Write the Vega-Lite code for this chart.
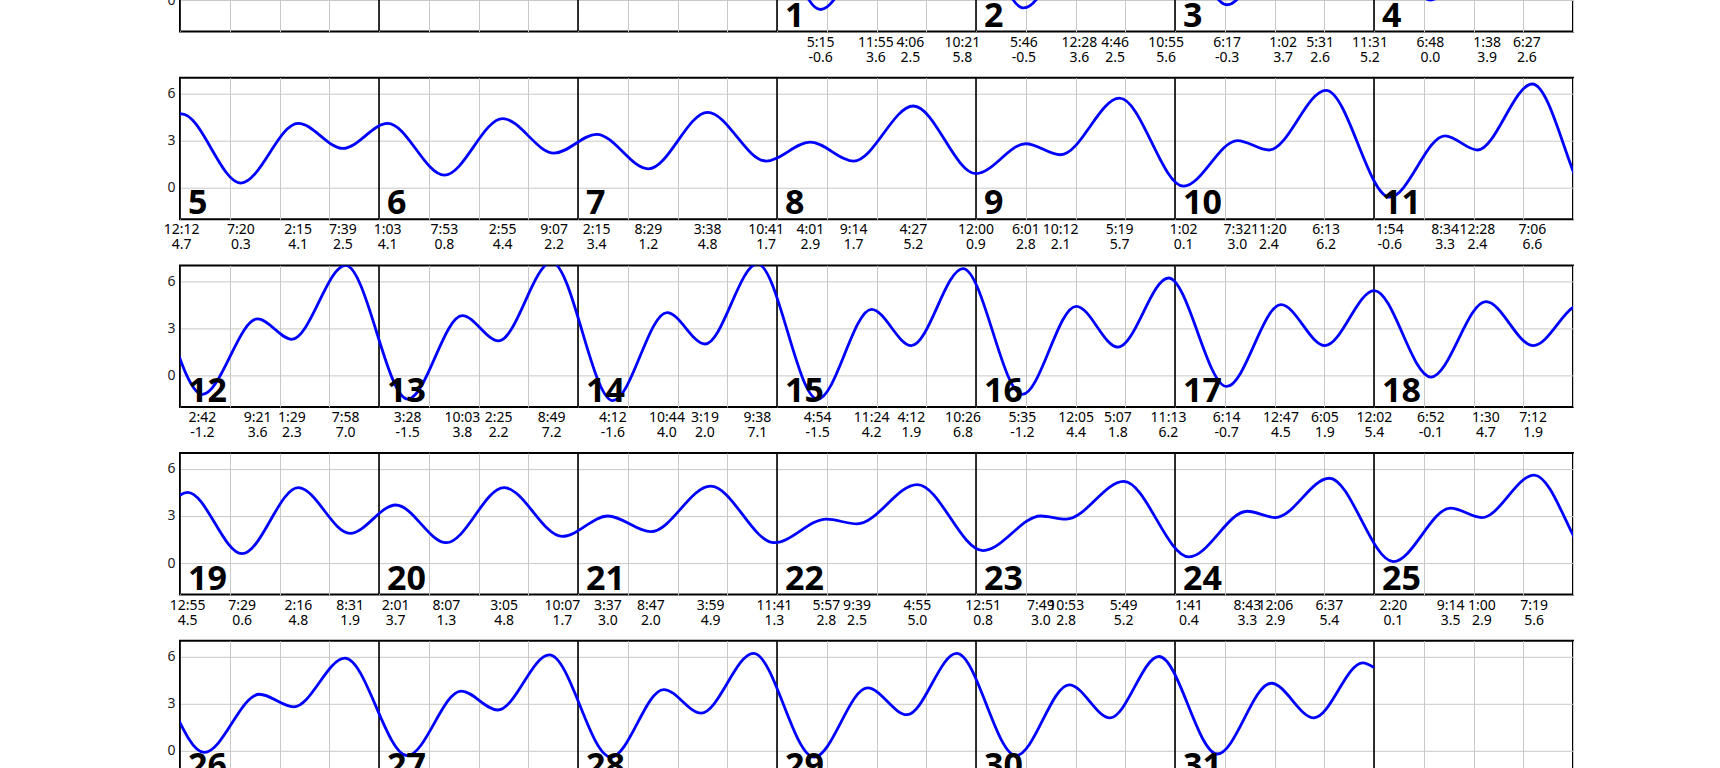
{
  "$schema": "https://vega.github.io/schema/vega-lite/v6.json",
  "background": "white",
  "padding": {"top": -111, "left": 162, "right": 0, "bottom": 0},
  "bounds": "flush",
  "spacing": 45.7,
  "datasets": {
    "tides": [
      {"t": "2024-05-01T00:00", "h": 5.6},
      {"t": "2024-05-01T05:15", "h": -0.6, "week": 0},
      {"t": "2024-05-01T11:55", "h": 3.6, "week": 0},
      {"t": "2024-05-01T16:06", "h": 2.5, "week": 0},
      {"t": "2024-05-01T22:21", "h": 5.8, "week": 0},
      {"t": "2024-05-02T05:46", "h": -0.5, "week": 0},
      {"t": "2024-05-02T12:28", "h": 3.6, "week": 0},
      {"t": "2024-05-02T16:46", "h": 2.5, "week": 0},
      {"t": "2024-05-02T22:55", "h": 5.6, "week": 0},
      {"t": "2024-05-03T06:17", "h": -0.3, "week": 0},
      {"t": "2024-05-03T13:02", "h": 3.7, "week": 0},
      {"t": "2024-05-03T17:31", "h": 2.6, "week": 0},
      {"t": "2024-05-03T23:31", "h": 5.2, "week": 0},
      {"t": "2024-05-04T06:48", "h": -0.0, "week": 0},
      {"t": "2024-05-04T13:38", "h": 3.9, "week": 0},
      {"t": "2024-05-04T18:27", "h": 2.6, "week": 0},
      {"t": "2024-05-05T00:12", "h": 4.7, "week": 1},
      {"t": "2024-05-05T07:20", "h": 0.3, "week": 1},
      {"t": "2024-05-05T14:15", "h": 4.1, "week": 1},
      {"t": "2024-05-05T19:39", "h": 2.5, "week": 1},
      {"t": "2024-05-06T01:03", "h": 4.1, "week": 1},
      {"t": "2024-05-06T07:53", "h": 0.8, "week": 1},
      {"t": "2024-05-06T14:55", "h": 4.4, "week": 1},
      {"t": "2024-05-06T21:07", "h": 2.2, "week": 1},
      {"t": "2024-05-07T02:15", "h": 3.4, "week": 1},
      {"t": "2024-05-07T08:29", "h": 1.2, "week": 1},
      {"t": "2024-05-07T15:38", "h": 4.8, "week": 1},
      {"t": "2024-05-07T22:41", "h": 1.7, "week": 1},
      {"t": "2024-05-08T04:01", "h": 2.9, "week": 1},
      {"t": "2024-05-08T09:14", "h": 1.7, "week": 1},
      {"t": "2024-05-08T16:27", "h": 5.2, "week": 1},
      {"t": "2024-05-09T00:00", "h": 0.9, "week": 1},
      {"t": "2024-05-09T06:01", "h": 2.8, "week": 1},
      {"t": "2024-05-09T10:12", "h": 2.1, "week": 1},
      {"t": "2024-05-09T17:19", "h": 5.7, "week": 1},
      {"t": "2024-05-10T01:02", "h": 0.1, "week": 1},
      {"t": "2024-05-10T07:32", "h": 3.0, "week": 1},
      {"t": "2024-05-10T11:20", "h": 2.4, "week": 1},
      {"t": "2024-05-10T18:13", "h": 6.2, "week": 1},
      {"t": "2024-05-11T01:54", "h": -0.6, "week": 1},
      {"t": "2024-05-11T08:34", "h": 3.3, "week": 1},
      {"t": "2024-05-11T12:28", "h": 2.4, "week": 1},
      {"t": "2024-05-11T19:06", "h": 6.6, "week": 1},
      {"t": "2024-05-12T02:42", "h": -1.2, "week": 2},
      {"t": "2024-05-12T09:21", "h": 3.6, "week": 2},
      {"t": "2024-05-12T13:29", "h": 2.3, "week": 2},
      {"t": "2024-05-12T19:58", "h": 7.0, "week": 2},
      {"t": "2024-05-13T03:28", "h": -1.5, "week": 2},
      {"t": "2024-05-13T10:03", "h": 3.8, "week": 2},
      {"t": "2024-05-13T14:25", "h": 2.2, "week": 2},
      {"t": "2024-05-13T20:49", "h": 7.2, "week": 2},
      {"t": "2024-05-14T04:12", "h": -1.6, "week": 2},
      {"t": "2024-05-14T10:44", "h": 4.0, "week": 2},
      {"t": "2024-05-14T15:19", "h": 2.0, "week": 2},
      {"t": "2024-05-14T21:38", "h": 7.1, "week": 2},
      {"t": "2024-05-15T04:54", "h": -1.5, "week": 2},
      {"t": "2024-05-15T11:24", "h": 4.2, "week": 2},
      {"t": "2024-05-15T16:12", "h": 1.9, "week": 2},
      {"t": "2024-05-15T22:26", "h": 6.8, "week": 2},
      {"t": "2024-05-16T05:35", "h": -1.2, "week": 2},
      {"t": "2024-05-16T12:05", "h": 4.4, "week": 2},
      {"t": "2024-05-16T17:07", "h": 1.8, "week": 2},
      {"t": "2024-05-16T23:13", "h": 6.2, "week": 2},
      {"t": "2024-05-17T06:14", "h": -0.7, "week": 2},
      {"t": "2024-05-17T12:47", "h": 4.5, "week": 2},
      {"t": "2024-05-17T18:05", "h": 1.9, "week": 2},
      {"t": "2024-05-18T00:02", "h": 5.4, "week": 2},
      {"t": "2024-05-18T06:52", "h": -0.1, "week": 2},
      {"t": "2024-05-18T13:30", "h": 4.7, "week": 2},
      {"t": "2024-05-18T19:12", "h": 1.9, "week": 2},
      {"t": "2024-05-19T00:55", "h": 4.5, "week": 3},
      {"t": "2024-05-19T07:29", "h": 0.6, "week": 3},
      {"t": "2024-05-19T14:16", "h": 4.8, "week": 3},
      {"t": "2024-05-19T20:31", "h": 1.9, "week": 3},
      {"t": "2024-05-20T02:01", "h": 3.7, "week": 3},
      {"t": "2024-05-20T08:07", "h": 1.3, "week": 3},
      {"t": "2024-05-20T15:05", "h": 4.8, "week": 3},
      {"t": "2024-05-20T22:07", "h": 1.7, "week": 3},
      {"t": "2024-05-21T03:37", "h": 3.0, "week": 3},
      {"t": "2024-05-21T08:47", "h": 2.0, "week": 3},
      {"t": "2024-05-21T15:59", "h": 4.9, "week": 3},
      {"t": "2024-05-21T23:41", "h": 1.3, "week": 3},
      {"t": "2024-05-22T05:57", "h": 2.8, "week": 3},
      {"t": "2024-05-22T09:39", "h": 2.5, "week": 3},
      {"t": "2024-05-22T16:55", "h": 5.0, "week": 3},
      {"t": "2024-05-23T00:51", "h": 0.8, "week": 3},
      {"t": "2024-05-23T07:49", "h": 3.0, "week": 3},
      {"t": "2024-05-23T10:53", "h": 2.8, "week": 3},
      {"t": "2024-05-23T17:49", "h": 5.2, "week": 3},
      {"t": "2024-05-24T01:41", "h": 0.4, "week": 3},
      {"t": "2024-05-24T08:43", "h": 3.3, "week": 3},
      {"t": "2024-05-24T12:06", "h": 2.9, "week": 3},
      {"t": "2024-05-24T18:37", "h": 5.4, "week": 3},
      {"t": "2024-05-25T02:20", "h": 0.1, "week": 3},
      {"t": "2024-05-25T09:14", "h": 3.5, "week": 3},
      {"t": "2024-05-25T13:00", "h": 2.9, "week": 3},
      {"t": "2024-05-25T19:19", "h": 5.6, "week": 3},
      {"t": "2024-05-26T02:56", "h": -0.1, "week": 4},
      {"t": "2024-05-26T09:34", "h": 3.6, "week": 4},
      {"t": "2024-05-26T13:43", "h": 2.8, "week": 4},
      {"t": "2024-05-26T19:54", "h": 5.9, "week": 4},
      {"t": "2024-05-27T03:25", "h": -0.3, "week": 4},
      {"t": "2024-05-27T09:54", "h": 3.8, "week": 4},
      {"t": "2024-05-27T14:19", "h": 2.6, "week": 4},
      {"t": "2024-05-27T20:33", "h": 6.1, "week": 4},
      {"t": "2024-05-28T03:58", "h": -0.4, "week": 4},
      {"t": "2024-05-28T10:20", "h": 3.9, "week": 4},
      {"t": "2024-05-28T14:50", "h": 2.4, "week": 4},
      {"t": "2024-05-28T21:10", "h": 6.2, "week": 4},
      {"t": "2024-05-29T04:28", "h": -0.4, "week": 4},
      {"t": "2024-05-29T10:55", "h": 4.0, "week": 4},
      {"t": "2024-05-29T15:40", "h": 2.3, "week": 4},
      {"t": "2024-05-29T21:40", "h": 6.2, "week": 4},
      {"t": "2024-05-30T04:50", "h": -0.3, "week": 4},
      {"t": "2024-05-30T11:15", "h": 4.2, "week": 4},
      {"t": "2024-05-30T16:10", "h": 2.1, "week": 4},
      {"t": "2024-05-30T22:04", "h": 6.0, "week": 4},
      {"t": "2024-05-31T05:06", "h": -0.2, "week": 4},
      {"t": "2024-05-31T11:36", "h": 4.3, "week": 4},
      {"t": "2024-05-31T16:45", "h": 2.1, "week": 4},
      {"t": "2024-05-31T22:39", "h": 5.6, "week": 4},
      {"t": "2024-06-01T00:00", "h": 5.3}
    ],
    "days": [
      {"d": "2024-04-28T00:00", "day": 28, "week": 0, "month": 4},
      {"d": "2024-04-29T00:00", "day": 29, "week": 0, "month": 4},
      {"d": "2024-04-30T00:00", "day": 30, "week": 0, "month": 4},
      {"d": "2024-05-01T00:00", "day": 1, "week": 0, "month": 5},
      {"d": "2024-05-02T00:00", "day": 2, "week": 0, "month": 5},
      {"d": "2024-05-03T00:00", "day": 3, "week": 0, "month": 5},
      {"d": "2024-05-04T00:00", "day": 4, "week": 0, "month": 5},
      {"d": "2024-05-05T00:00", "day": 5, "week": 1, "month": 5},
      {"d": "2024-05-06T00:00", "day": 6, "week": 1, "month": 5},
      {"d": "2024-05-07T00:00", "day": 7, "week": 1, "month": 5},
      {"d": "2024-05-08T00:00", "day": 8, "week": 1, "month": 5},
      {"d": "2024-05-09T00:00", "day": 9, "week": 1, "month": 5},
      {"d": "2024-05-10T00:00", "day": 10, "week": 1, "month": 5},
      {"d": "2024-05-11T00:00", "day": 11, "week": 1, "month": 5},
      {"d": "2024-05-12T00:00", "day": 12, "week": 2, "month": 5},
      {"d": "2024-05-13T00:00", "day": 13, "week": 2, "month": 5},
      {"d": "2024-05-14T00:00", "day": 14, "week": 2, "month": 5},
      {"d": "2024-05-15T00:00", "day": 15, "week": 2, "month": 5},
      {"d": "2024-05-16T00:00", "day": 16, "week": 2, "month": 5},
      {"d": "2024-05-17T00:00", "day": 17, "week": 2, "month": 5},
      {"d": "2024-05-18T00:00", "day": 18, "week": 2, "month": 5},
      {"d": "2024-05-19T00:00", "day": 19, "week": 3, "month": 5},
      {"d": "2024-05-20T00:00", "day": 20, "week": 3, "month": 5},
      {"d": "2024-05-21T00:00", "day": 21, "week": 3, "month": 5},
      {"d": "2024-05-22T00:00", "day": 22, "week": 3, "month": 5},
      {"d": "2024-05-23T00:00", "day": 23, "week": 3, "month": 5},
      {"d": "2024-05-24T00:00", "day": 24, "week": 3, "month": 5},
      {"d": "2024-05-25T00:00", "day": 25, "week": 3, "month": 5},
      {"d": "2024-05-26T00:00", "day": 26, "week": 4, "month": 5},
      {"d": "2024-05-27T00:00", "day": 27, "week": 4, "month": 5},
      {"d": "2024-05-28T00:00", "day": 28, "week": 4, "month": 5},
      {"d": "2024-05-29T00:00", "day": 29, "week": 4, "month": 5},
      {"d": "2024-05-30T00:00", "day": 30, "week": 4, "month": 5},
      {"d": "2024-05-31T00:00", "day": 31, "week": 4, "month": 5},
      {"d": "2024-06-01T00:00", "day": 1, "week": 4, "month": 6}
    ]
  },
  "vconcat": [
    {
      "width": 1393, "height": 141.5,
      "layer": [
        {"data": {"name": "days"}, "transform": [{"filter": {"field": "week", "equal": 0}}],
         "mark": {"type": "rule", "color": "black", "strokeWidth": 1.6, "clip": true},
         "encoding": {"x": {"field": "d", "type": "temporal", "scale": {"domain": [{"year": 2024, "month": 4, "date": 28}, {"year": 2024, "month": 5, "date": 5}], "nice": false}, "axis": {"title": null, "labels": false, "ticks": false, "domain": false, "grid": true, "gridColor": "#c8c8c8", "gridWidth": 1, "tickCount": 28}}}},
        {"data": {"name": "tides"},
         "mark": {"type": "line", "clip": true, "interpolate": "monotone", "color": "#0000ff", "strokeWidth": 2.8},
         "encoding": {"x": {"field": "t", "type": "temporal"},
           "y": {"field": "h", "type": "quantitative", "scale": {"domain": [-2, 7], "nice": false, "zero": false}, "axis": {"title": null, "values": [0, 3, 6], "grid": true, "gridColor": "#c8c8c8", "ticks": false, "domain": false, "labelPadding": 5}}}},
        {"data": {"name": "days"}, "transform": [{"filter": {"field": "week", "equal": 0}}, {"filter": {"field": "month", "equal": 5}}],
         "mark": {"type": "text", "dy": -5, "dx": 8, "align": "left", "baseline": "alphabetic", "fontSize": 34, "fontWeight": "bold", "color": "black"},
         "encoding": {"x": {"field": "d", "type": "temporal"}, "y": {"datum": -2, "type": "quantitative"}, "text": {"field": "day", "type": "nominal"}}},
        {"data": {"name": "tides"}, "transform": [{"filter": {"field": "week", "equal": 0}}],
         "mark": {"type": "text", "dy": 15, "align": "center", "baseline": "alphabetic", "fontSize": 14, "color": "black"},
         "encoding": {"x": {"field": "t", "type": "temporal"}, "y": {"datum": -2, "type": "quantitative"}, "text": {"field": "t", "type": "temporal", "format": "%-I:%M"}}},
        {"data": {"name": "tides"}, "transform": [{"filter": {"field": "week", "equal": 0}}],
         "mark": {"type": "text", "dy": 30, "align": "center", "baseline": "alphabetic", "fontSize": 14, "color": "black"},
         "encoding": {"x": {"field": "t", "type": "temporal"}, "y": {"datum": -2, "type": "quantitative"}, "text": {"field": "h", "type": "quantitative", "format": ".1f"}}}
      ]
    },
    {
      "width": 1393, "height": 141.5,
      "layer": [
        {"data": {"name": "days"}, "transform": [{"filter": {"field": "week", "equal": 1}}],
         "mark": {"type": "rule", "color": "black", "strokeWidth": 1.6, "clip": true},
         "encoding": {"x": {"field": "d", "type": "temporal", "scale": {"domain": [{"year": 2024, "month": 5, "date": 5}, {"year": 2024, "month": 5, "date": 12}], "nice": false}, "axis": {"title": null, "labels": false, "ticks": false, "domain": false, "grid": true, "gridColor": "#c8c8c8", "gridWidth": 1, "tickCount": 28}}}},
        {"data": {"name": "tides"},
         "mark": {"type": "line", "clip": true, "interpolate": "monotone", "color": "#0000ff", "strokeWidth": 2.8},
         "encoding": {"x": {"field": "t", "type": "temporal"},
           "y": {"field": "h", "type": "quantitative", "scale": {"domain": [-2, 7], "nice": false, "zero": false}, "axis": {"title": null, "values": [0, 3, 6], "grid": true, "gridColor": "#c8c8c8", "ticks": false, "domain": false, "labelPadding": 5}}}},
        {"data": {"name": "days"}, "transform": [{"filter": {"field": "week", "equal": 1}}, {"filter": {"field": "month", "equal": 5}}],
         "mark": {"type": "text", "dy": -5, "dx": 8, "align": "left", "baseline": "alphabetic", "fontSize": 34, "fontWeight": "bold", "color": "black"},
         "encoding": {"x": {"field": "d", "type": "temporal"}, "y": {"datum": -2, "type": "quantitative"}, "text": {"field": "day", "type": "nominal"}}},
        {"data": {"name": "tides"}, "transform": [{"filter": {"field": "week", "equal": 1}}],
         "mark": {"type": "text", "dy": 15, "align": "center", "baseline": "alphabetic", "fontSize": 14, "color": "black"},
         "encoding": {"x": {"field": "t", "type": "temporal"}, "y": {"datum": -2, "type": "quantitative"}, "text": {"field": "t", "type": "temporal", "format": "%-I:%M"}}},
        {"data": {"name": "tides"}, "transform": [{"filter": {"field": "week", "equal": 1}}],
         "mark": {"type": "text", "dy": 30, "align": "center", "baseline": "alphabetic", "fontSize": 14, "color": "black"},
         "encoding": {"x": {"field": "t", "type": "temporal"}, "y": {"datum": -2, "type": "quantitative"}, "text": {"field": "h", "type": "quantitative", "format": ".1f"}}}
      ]
    },
    {
      "width": 1393, "height": 141.5,
      "layer": [
        {"data": {"name": "days"}, "transform": [{"filter": {"field": "week", "equal": 2}}],
         "mark": {"type": "rule", "color": "black", "strokeWidth": 1.6, "clip": true},
         "encoding": {"x": {"field": "d", "type": "temporal", "scale": {"domain": [{"year": 2024, "month": 5, "date": 12}, {"year": 2024, "month": 5, "date": 19}], "nice": false}, "axis": {"title": null, "labels": false, "ticks": false, "domain": false, "grid": true, "gridColor": "#c8c8c8", "gridWidth": 1, "tickCount": 28}}}},
        {"data": {"name": "tides"},
         "mark": {"type": "line", "clip": true, "interpolate": "monotone", "color": "#0000ff", "strokeWidth": 2.8},
         "encoding": {"x": {"field": "t", "type": "temporal"},
           "y": {"field": "h", "type": "quantitative", "scale": {"domain": [-2, 7], "nice": false, "zero": false}, "axis": {"title": null, "values": [0, 3, 6], "grid": true, "gridColor": "#c8c8c8", "ticks": false, "domain": false, "labelPadding": 5}}}},
        {"data": {"name": "days"}, "transform": [{"filter": {"field": "week", "equal": 2}}, {"filter": {"field": "month", "equal": 5}}],
         "mark": {"type": "text", "dy": -5, "dx": 8, "align": "left", "baseline": "alphabetic", "fontSize": 34, "fontWeight": "bold", "color": "black"},
         "encoding": {"x": {"field": "d", "type": "temporal"}, "y": {"datum": -2, "type": "quantitative"}, "text": {"field": "day", "type": "nominal"}}},
        {"data": {"name": "tides"}, "transform": [{"filter": {"field": "week", "equal": 2}}],
         "mark": {"type": "text", "dy": 15, "align": "center", "baseline": "alphabetic", "fontSize": 14, "color": "black"},
         "encoding": {"x": {"field": "t", "type": "temporal"}, "y": {"datum": -2, "type": "quantitative"}, "text": {"field": "t", "type": "temporal", "format": "%-I:%M"}}},
        {"data": {"name": "tides"}, "transform": [{"filter": {"field": "week", "equal": 2}}],
         "mark": {"type": "text", "dy": 30, "align": "center", "baseline": "alphabetic", "fontSize": 14, "color": "black"},
         "encoding": {"x": {"field": "t", "type": "temporal"}, "y": {"datum": -2, "type": "quantitative"}, "text": {"field": "h", "type": "quantitative", "format": ".1f"}}}
      ]
    },
    {
      "width": 1393, "height": 141.5,
      "layer": [
        {"data": {"name": "days"}, "transform": [{"filter": {"field": "week", "equal": 3}}],
         "mark": {"type": "rule", "color": "black", "strokeWidth": 1.6, "clip": true},
         "encoding": {"x": {"field": "d", "type": "temporal", "scale": {"domain": [{"year": 2024, "month": 5, "date": 19}, {"year": 2024, "month": 5, "date": 26}], "nice": false}, "axis": {"title": null, "labels": false, "ticks": false, "domain": false, "grid": true, "gridColor": "#c8c8c8", "gridWidth": 1, "tickCount": 28}}}},
        {"data": {"name": "tides"},
         "mark": {"type": "line", "clip": true, "interpolate": "monotone", "color": "#0000ff", "strokeWidth": 2.8},
         "encoding": {"x": {"field": "t", "type": "temporal"},
           "y": {"field": "h", "type": "quantitative", "scale": {"domain": [-2, 7], "nice": false, "zero": false}, "axis": {"title": null, "values": [0, 3, 6], "grid": true, "gridColor": "#c8c8c8", "ticks": false, "domain": false, "labelPadding": 5}}}},
        {"data": {"name": "days"}, "transform": [{"filter": {"field": "week", "equal": 3}}, {"filter": {"field": "month", "equal": 5}}],
         "mark": {"type": "text", "dy": -5, "dx": 8, "align": "left", "baseline": "alphabetic", "fontSize": 34, "fontWeight": "bold", "color": "black"},
         "encoding": {"x": {"field": "d", "type": "temporal"}, "y": {"datum": -2, "type": "quantitative"}, "text": {"field": "day", "type": "nominal"}}},
        {"data": {"name": "tides"}, "transform": [{"filter": {"field": "week", "equal": 3}}],
         "mark": {"type": "text", "dy": 15, "align": "center", "baseline": "alphabetic", "fontSize": 14, "color": "black"},
         "encoding": {"x": {"field": "t", "type": "temporal"}, "y": {"datum": -2, "type": "quantitative"}, "text": {"field": "t", "type": "temporal", "format": "%-I:%M"}}},
        {"data": {"name": "tides"}, "transform": [{"filter": {"field": "week", "equal": 3}}],
         "mark": {"type": "text", "dy": 30, "align": "center", "baseline": "alphabetic", "fontSize": 14, "color": "black"},
         "encoding": {"x": {"field": "t", "type": "temporal"}, "y": {"datum": -2, "type": "quantitative"}, "text": {"field": "h", "type": "quantitative", "format": ".1f"}}}
      ]
    },
    {
      "width": 1393, "height": 141.5,
      "layer": [
        {"data": {"name": "days"}, "transform": [{"filter": {"field": "week", "equal": 4}}],
         "mark": {"type": "rule", "color": "black", "strokeWidth": 1.6, "clip": true},
         "encoding": {"x": {"field": "d", "type": "temporal", "scale": {"domain": [{"year": 2024, "month": 5, "date": 26}, {"year": 2024, "month": 6, "date": 2}], "nice": false}, "axis": {"title": null, "labels": false, "ticks": false, "domain": false, "grid": true, "gridColor": "#c8c8c8", "gridWidth": 1, "tickCount": 28}}}},
        {"data": {"name": "tides"},
         "mark": {"type": "line", "clip": true, "interpolate": "monotone", "color": "#0000ff", "strokeWidth": 2.8},
         "encoding": {"x": {"field": "t", "type": "temporal"},
           "y": {"field": "h", "type": "quantitative", "scale": {"domain": [-2, 7], "nice": false, "zero": false}, "axis": {"title": null, "values": [0, 3, 6], "grid": true, "gridColor": "#c8c8c8", "ticks": false, "domain": false, "labelPadding": 5}}}},
        {"data": {"name": "days"}, "transform": [{"filter": {"field": "week", "equal": 4}}, {"filter": {"field": "month", "equal": 5}}],
         "mark": {"type": "text", "dy": -5, "dx": 8, "align": "left", "baseline": "alphabetic", "fontSize": 34, "fontWeight": "bold", "color": "black"},
         "encoding": {"x": {"field": "d", "type": "temporal"}, "y": {"datum": -2, "type": "quantitative"}, "text": {"field": "day", "type": "nominal"}}},
        {"data": {"name": "tides"}, "transform": [{"filter": {"field": "week", "equal": 4}}],
         "mark": {"type": "text", "dy": 15, "align": "center", "baseline": "alphabetic", "fontSize": 14, "color": "black"},
         "encoding": {"x": {"field": "t", "type": "temporal"}, "y": {"datum": -2, "type": "quantitative"}, "text": {"field": "t", "type": "temporal", "format": "%-I:%M"}}},
        {"data": {"name": "tides"}, "transform": [{"filter": {"field": "week", "equal": 4}}],
         "mark": {"type": "text", "dy": 30, "align": "center", "baseline": "alphabetic", "fontSize": 14, "color": "black"},
         "encoding": {"x": {"field": "t", "type": "temporal"}, "y": {"datum": -2, "type": "quantitative"}, "text": {"field": "h", "type": "quantitative", "format": ".1f"}}}
      ]
    }
  ],
  "config": {
    "font": "Noto Sans",
    "view": {"stroke": "black", "strokeWidth": 2},
    "axis": {"labelFont": "Noto Sans", "labelFontSize": 14, "labelColor": "#222"},
    "text": {"font": "Noto Sans"},
    "locale": {"number": {"decimal": ".", "thousands": ",", "grouping": [3], "currency": ["$", ""], "minus": "-"}}
  }
}
